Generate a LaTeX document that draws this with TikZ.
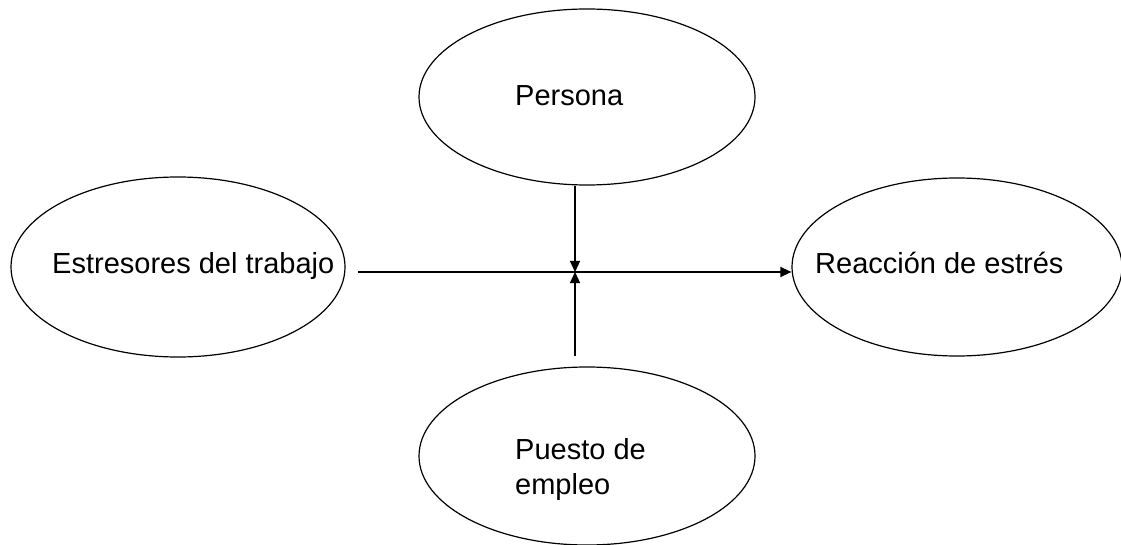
\documentclass[tikz,border=0pt]{standalone}
\usepackage{fontspec}
\setmainfont{Liberation Sans}
\usetikzlibrary{shapes.geometric,arrows.meta}
\begin{document}
\begin{tikzpicture}[x=1pt,y=-1pt,
  oval/.style={draw,ellipse,line width=1.2pt,inner sep=0pt},
  lbl/.style={anchor=base west,inner sep=0pt,font=\fontsize{29}{35}\selectfont,align=left},
  arr/.style={line width=1.2pt,-{Triangle[length=11pt,width=10pt]}}]
\useasboundingbox (0,0) rectangle (1121,545);
\node[oval,minimum width=336pt,minimum height=176pt] (pers) at (587,97) {};
\node[oval,minimum width=334pt,minimum height=180pt] (est) at (178,267) {};
\node[oval,minimum width=330pt,minimum height=178pt] (reac) at (957,267) {};
\node[oval,minimum width=336pt,minimum height=178pt] (pue) at (587,456) {};
\node[lbl] (tpers) at (515,106) {Persona};
\node[lbl] (test) at (52,273) {Estresores del trabajo};
\node[lbl] (treac) at (815,273) {Reacción de estrés};
\node[lbl] (tpue) at (515,494) {Puesto de\\empleo};
\coordinate (j) at (575,272);
\coordinate (hstart) at (358,272);
\coordinate (vstart) at (575,356);
\draw[arr] (hstart) -- (reac.west |- j);
\draw[arr] (pers.south -| j) -- (j);
\draw[arr] (vstart) -- (j);
\end{tikzpicture}
\end{document}
